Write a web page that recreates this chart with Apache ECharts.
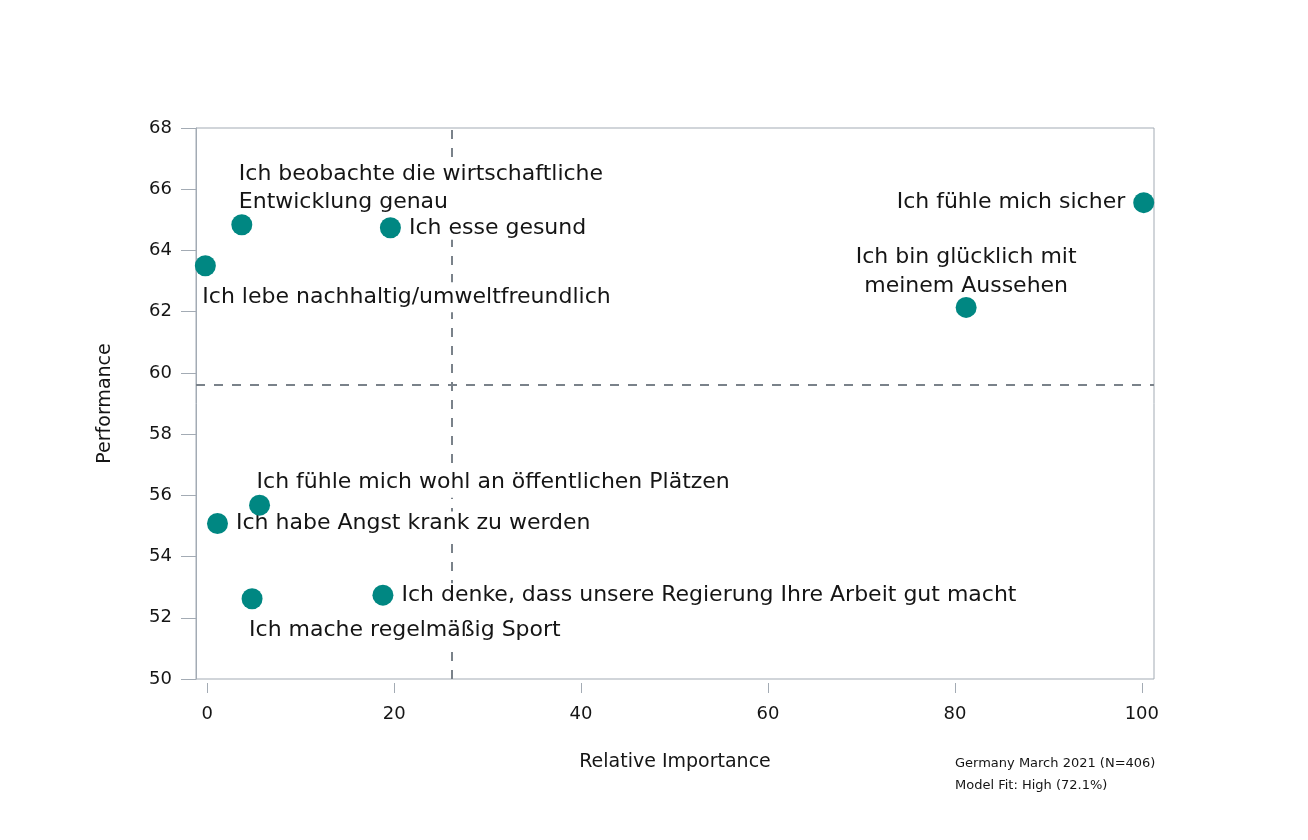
<!DOCTYPE html>
<html>
<head>
<meta charset="utf-8">
<title>Relative Importance vs Performance</title>
<script src="https://cdn.jsdelivr.net/npm/echarts@6/dist/echarts.min.js"></script>
<style>
  html, body { margin: 0; padding: 0; background: #fff; }
  #chart { width: 1308px; height: 840px; }
</style>
</head>
<body>
<div id="chart"></div>
<script>
// 数据
const statements = [
  'Ich fühle mich sicher',
  'Ich bin glücklich mit\nmeinem Aussehen',
  'Ich beobachte die wirtschaftliche\nEntwicklung genau',
  'Ich esse gesund',
  'Ich lebe nachhaltig/umweltfreundlich',
  'Ich fühle mich wohl an öffentlichen Plätzen',
  'Ich habe Angst krank zu werden',
  'Ich mache regelmäßig Sport',
  'Ich denke, dass unsere Regierung Ihre Arbeit gut macht'
];
const importance = [100.2, 81.2, 3.7, 19.6, -0.2, 5.6, 1.1, 4.8, 18.8];
const performance = [65.56, 62.14, 64.84, 64.74, 63.50, 55.68, 55.08, 52.62, 52.74];
// 标签位置
const labelPlacement = ['left', 'top', 'topLeft', 'right', 'bottomLeft', 'topLeft', 'right', 'bottomLeft', 'right'];

const xTicks = [0, 20, 40, 60, 80, 100];
const importanceMean = 26.2;
const performanceMean = 59.6;
const footnote = ['Germany March 2021 (N=406)', 'Model Fit: High (72.1%)'];

const fontFamily = '"DejaVu Sans", sans-serif';
const textColor = '#151515';
const frameColor = '#a3abb4';
const dotColor = '#008782';

// 每个点的标签配置
function makeLabel(place) {
  if (place === 'topLeft') {
    return { position: 'top', align: 'left', offset: [-5, 8], lineHeight: 28 };
  }
  if (place === 'bottomLeft') {
    return { position: 'bottom', align: 'left', offset: [-5, 1], lineHeight: 28 };
  }
  if (place === 'top') {
    return { position: 'top', align: 'center', offset: [0, 10], lineHeight: 29 };
  }
  return { position: place, distance: 6 };
}

const labelPoints = statements.map((name, i) => ({
  name: name,
  value: [importance[i], performance[i]],
  label: makeLabel(labelPlacement[i])
}));
const dotPoints = statements.map((name, i) => [importance[i], performance[i]]);

const chart = echarts.init(document.getElementById('chart'));

const option = {
  backgroundColor: '#fff',
  animation: false,
  textStyle: { fontFamily: fontFamily },
  grid: {
    left: 196, right: 154, top: 128, bottom: 161,
    show: true, borderColor: frameColor, borderWidth: 1,
    backgroundColor: 'transparent'
  },
  xAxis: {
    type: 'value',
    min: -1.2,
    max: 101.3,
    offset: 4,
    name: 'Relative Importance',
    nameLocation: 'middle',
    nameGap: 70,
    nameTextStyle: { fontSize: 19, color: textColor, fontFamily: fontFamily },
    axisLine: { show: false },
    axisTick: { show: true, length: 10, customValues: xTicks, lineStyle: { color: frameColor } },
    axisLabel: { customValues: xTicks, margin: 22, fontSize: 18, color: textColor, fontFamily: fontFamily },
    splitLine: { show: false }
  },
  yAxis: {
    type: 'value',
    min: 50,
    max: 68,
    interval: 2,
    name: 'Performance',
    nameLocation: 'middle',
    nameGap: 81,
    nameTextStyle: { fontSize: 19, color: textColor, fontFamily: fontFamily },
    axisLine: { show: true, onZero: false, lineStyle: { color: frameColor } },
    axisTick: { show: true, length: 15, lineStyle: { color: frameColor } },
    axisLabel: { margin: 24, fontSize: 18, color: textColor, fontFamily: fontFamily },
    splitLine: { show: false }
  },
  series: [{
    // 标签层（白底遮住虚线）
    type: 'scatter',
    z: 2,
    data: labelPoints,
    symbolSize: 21,
    itemStyle: { color: 'rgba(0,0,0,0)', opacity: 1 },
    label: {
      show: true,
      formatter: p => p.name,
      fontSize: 22,
      color: textColor,
      opacity: 1,
      fontFamily: fontFamily,
      backgroundColor: '#fff',
      padding: [1, 2]
    },
    emphasis: { disabled: true },
    markLine: {
      silent: true,
      symbol: 'none',
      z: 1,
      label: { show: false },
      lineStyle: { color: '#7a828a', type: [9, 9], width: 2 },
      data: [
        { xAxis: importanceMean },
        { yAxis: performanceMean }
      ]
    }
  }, {
    // 圆点层
    type: 'scatter',
    z: 5,
    data: dotPoints,
    symbolSize: 21,
    itemStyle: { color: dotColor, opacity: 1 },
    emphasis: { disabled: true }
  }],
  graphic: [{
    type: 'text',
    left: 955,
    top: 753,
    style: {
      text: footnote.join('\n'),
      fontSize: 13,
      lineHeight: 22,
      fill: textColor,
      fontFamily: fontFamily
    }
  }]
};

chart.setOption(option);
</script>
</body>
</html>
